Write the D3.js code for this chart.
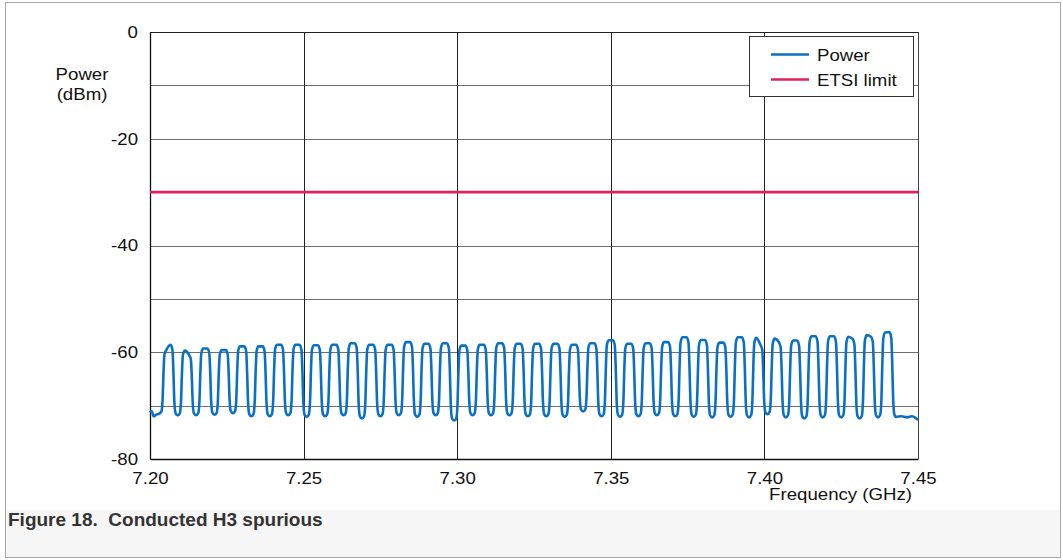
<!DOCTYPE html>
<html>
<head>
<meta charset="utf-8">
<script src="https://cdn.jsdelivr.net/npm/d3@7"></script>
<style>
  body { margin: 0; background: #fff; }
  svg { display: block; font-family: Arial, "Liberation Sans", sans-serif; }
  .caption { white-space: pre; }
</style>
</head>
<body>
<svg id="chart" width="1063" height="560"></svg>
<script>
// Axis ticks
const yTicks = [0, -20, -40, -60, -80];
const yGrid = [-10, -20, -30, -40, -50, -60, -70];
const xTicks = [7.20, 7.25, 7.30, 7.35, 7.40, 7.45];

// ETSI limit (dBm)
const etsiLimit = -30;

// Centre frequency of each H3 burst (GHz)
const pulseCenters = [
  7.206, 7.212, 7.218, 7.224, 7.230, 7.236, 7.242, 7.248, 7.254, 7.260,
  7.266, 7.272, 7.278, 7.284, 7.290, 7.296, 7.302, 7.308, 7.314, 7.320,
  7.326, 7.332, 7.338, 7.344, 7.350, 7.356, 7.362, 7.368, 7.374, 7.380,
  7.386, 7.392, 7.398, 7.404, 7.410, 7.416, 7.422, 7.428, 7.434, 7.440
];
// Burst top level on the rising side / falling side (dBm)
const pulsePeakRise = [
  -59.6, -59.7, -59.3, -59.6, -58.9, -58.9, -58.6, -58.6, -58.7, -58.6,
  -58.3, -58.6, -58.6, -58.1, -58.4, -58.3, -58.75, -58.6, -58.3, -58.4,
  -58.4, -58.4, -58.6, -58.3, -57.75, -58.4, -58.3, -58.1, -57.2, -57.7,
  -58.2, -57.2, -57.3, -57.45, -57.8, -57.0, -57.0, -57.1, -56.8, -56.3
];
const pulsePeakFall = [
  -58.6, -60.5, -59.3, -59.6, -58.9, -58.9, -58.6, -58.6, -58.7, -58.6,
  -58.3, -58.6, -58.6, -58.1, -58.4, -58.3, -58.75, -58.6, -58.3, -58.4,
  -58.4, -58.4, -58.6, -58.3, -57.75, -58.4, -58.3, -58.1, -57.2, -57.7,
  -58.2, -57.2, -58.6, -58.1, -57.8, -57.0, -57.0, -57.5, -57.1, -56.2
];
// Noise floor between consecutive bursts (dBm)
const floorBetween = [
  -71.8, -71.8, -71.7, -71.4, -72.0, -72.0, -71.8, -72.1, -72.0,
  -71.8, -72.4, -72.0, -71.8, -72.1, -71.8, -72.8, -71.8, -71.8, -71.8,
  -72.0, -72.0, -72.1, -71.1, -72.0, -72.1, -72.0, -71.8, -72.0, -72.1, -72.2,
  -72.1, -72.2, -71.6, -72.2, -72.4, -72.2, -72.2, -72.4, -72.2
];
// Floor before the first burst and after the last one: [GHz, dBm]
const leadIn = [[7.2000, -71.3], [7.2005, -71.0], [7.2012, -72.0], [7.2020, -71.7], [7.2030, -71.5]];
const tail = [[7.4428, -72.1], [7.4445, -72.0], [7.4465, -72.2], [7.4480, -72.0], [7.4492, -72.3], [7.4500, -72.7]];

// Legend
const legendItems = [
  { name: "Power", color: "#0a70c4" },
  { name: "ETSI limit", color: "#e0215a" }
];

// ---- burst outline: offset from centre (MHz) and fraction of the rise above the floor
const burstShape = [[-2.3, 0.03], [-1.9, 0.22], [-1.62, 0.62], [-1.3, 0.93], [-0.7, 1]];

function buildTrace() {
  const pts = leadIn.map(d => d.slice());
  pulseCenters.forEach((c, i) => {
    const floorL = i === 0 ? leadIn[leadIn.length - 1][1] : floorBetween[i - 1];
    const floorR = i === pulseCenters.length - 1 ? tail[0][1] : floorBetween[i];
    burstShape.forEach(([off, f]) => {
      pts.push([c + off / 1000, floorL + f * (pulsePeakRise[i] - floorL)]);
    });
    burstShape.slice().reverse().forEach(([off, f]) => {
      pts.push([c - off / 1000, floorR + f * (pulsePeakFall[i] - floorR)]);
    });
    if (i < pulseCenters.length - 1) {
      pts.push([(c + pulseCenters[i + 1]) / 2, floorBetween[i]]);
    }
  });
  tail.forEach(d => pts.push(d.slice()));
  return pts;
}

const svg = d3.select("#chart");
const plot = { left: 150, right: 918, top: 32, bottom: 459 };

const x = d3.scaleLinear().domain([7.20, 7.45]).range([plot.left, plot.right]);
const y = d3.scaleLinear().domain([-80, 0]).range([plot.bottom, plot.top]);

const FS = 16.5, SX = 1.13;
function label(g, txt, px, py, anchor, opts = {}) {
  return g.append("text")
    .attr("class", opts.cls || null)
    .attr("transform", `translate(${px},${py}) scale(${opts.sx || SX},1)`)
    .attr("text-anchor", anchor)
    .attr("font-size", opts.size || FS)
    .attr("font-weight", opts.weight || "normal")
    .attr("fill", opts.fill || "#111")
    .text(txt);
}

// outer figure frame and caption band
svg.append("rect").attr("x", 5.5).attr("y", 2.5).attr("width", 1055).attr("height", 555)
  .attr("fill", "#fff").attr("stroke", "#a6a6a6").attr("stroke-width", 1);
svg.append("rect").attr("x", 6).attr("y", 510).attr("width", 1054).attr("height", 47)
  .attr("fill", "#f6f6f6");

// gridlines
const grid = svg.append("g");
grid.selectAll("line.h").data(yGrid).join("line")
  .attr("x1", plot.left).attr("x2", plot.right)
  .attr("y1", d => Math.round(y(d)) + 0.5).attr("y2", d => Math.round(y(d)) + 0.5)
  .attr("stroke", "#6e6e6e").attr("stroke-width", 1);
grid.selectAll("line.v").data(xTicks.slice(1, -1)).join("line")
  .attr("y1", plot.top).attr("y2", plot.bottom)
  .attr("x1", d => Math.round(x(d)) + 0.5).attr("x2", d => Math.round(x(d)) + 0.5)
  .attr("stroke", "#222").attr("stroke-width", 1);

// plot frame
svg.append("line").attr("x1", plot.left).attr("x2", plot.right).attr("y1", plot.top + 0.5).attr("y2", plot.top + 0.5)
  .attr("stroke", "#222");
svg.append("line").attr("x1", plot.right + 0.5).attr("x2", plot.right + 0.5).attr("y1", plot.top).attr("y2", plot.bottom)
  .attr("stroke", "#444");

// axes (no tick marks, labels only)
const yAxis = svg.append("g").attr("transform", `translate(${plot.left},0)`)
  .call(d3.axisLeft(y).tickValues(yTicks).tickSize(0).tickPadding(12).tickFormat(d => String(d)));
const xAxis = svg.append("g").attr("transform", `translate(0,${plot.bottom})`)
  .call(d3.axisBottom(x).tickValues(xTicks).tickSize(0).tickPadding(13).tickFormat(d3.format(".2f")));
[yAxis, xAxis].forEach(a => {
  a.select(".domain").attr("stroke", "#111").attr("stroke-width", 1.3);
  a.selectAll("text").attr("font-size", FS).attr("fill", "#111").attr("font-family", "Arial, 'Liberation Sans', sans-serif");
});
// widen tick labels to the chart's lettering
yAxis.selectAll(".tick text").each(function () {
  const t = d3.select(this);
  const tx = +t.attr("x");
  t.attr("x", 0).attr("transform", `translate(${tx},0) scale(${SX},1)`);
});
xAxis.selectAll(".tick text").each(function () {
  const t = d3.select(this);
  const ty = +t.attr("y");
  t.attr("y", 0).attr("transform", `translate(0,${ty}) scale(${SX},1)`);
});

// axis titles
label(svg, "Power", 82, 80, "middle");
label(svg, "(dBm)", 82, 100, "middle");
label(svg, "Frequency (GHz)", 912, 500, "end");

// ETSI limit line
svg.append("line")
  .attr("x1", x(7.20)).attr("x2", x(7.45))
  .attr("y1", y(etsiLimit)).attr("y2", y(etsiLimit))
  .attr("stroke", legendItems[1].color).attr("stroke-width", 2.6);

// measured power trace
const trace = buildTrace();
const line = d3.line().x(d => x(d[0])).y(d => y(d[1])).curve(d3.curveMonotoneX);
svg.append("path").datum(trace)
  .attr("d", line)
  .attr("fill", "none")
  .attr("stroke", legendItems[0].color)
  .attr("stroke-width", 2.6)
  .attr("stroke-linejoin", "round");

// legend
const lg = svg.append("g");
lg.append("rect").attr("x", 749.5).attr("y", 36.5).attr("width", 164).attr("height", 60)
  .attr("fill", "#fff").attr("stroke", "#333").attr("stroke-width", 1);
legendItems.forEach((it, i) => {
  const ly = 54.5 + i * 25;
  lg.append("line").attr("x1", 771).attr("x2", 809).attr("y1", ly).attr("y2", ly)
    .attr("stroke", it.color).attr("stroke-width", 2.6);
  label(lg, it.name, 817, ly + 6, "start");
});

// caption
label(svg, "Figure 18.  Conducted H3 spurious", 8, 526, "start",
  { sx: 1, size: 19, weight: "bold", fill: "#333", cls: "caption" });
</script>
</body>
</html>
